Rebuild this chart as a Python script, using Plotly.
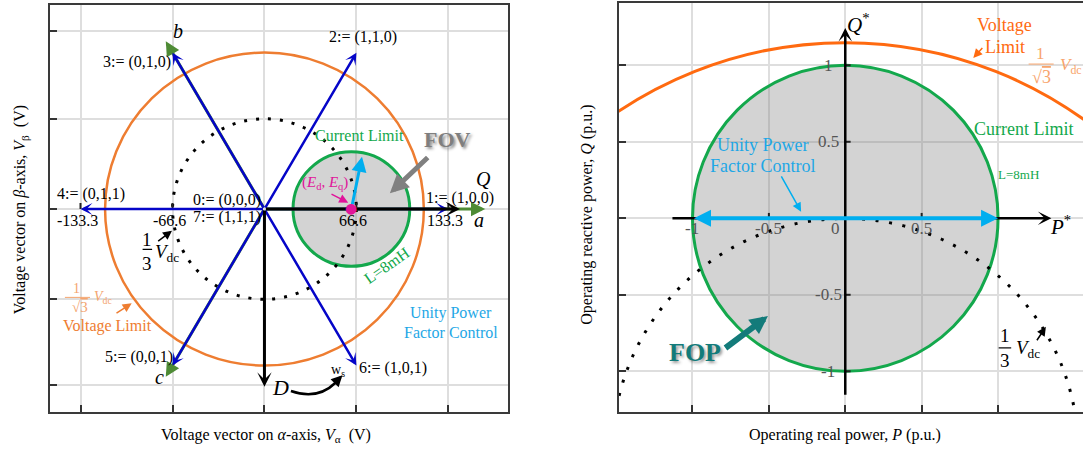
import math
import plotly.graph_objects as go

W, H = 1083, 454
SERIF = "Liberation Serif, Times New Roman, serif"

# ---------------- left panel: voltage space-vector plane (V) ----------------
ALPHA_GRID = [-133.3, -66.6, 0, 66.6, 133.3]
BETA_GRID = [-129.5, -66.6, 0, 66.6, 131.5]
ALPHA_TICK_VALS = [-133.3, -66.6, 66.6, 133.3]
ALPHA_TICK_TEXT = ["-133.3", "-66.6", "66.6", "133.3"]

SV_LABELS = ["1:= (1,0,0)", "2:= (1,1,0)", "3:= (0,1,0)",
             "4:= (0,1,1)", "5:= (0,0,1)", "6:= (1,0,1)"]
SV_ANGLES = [0, 60, 120, 180, 240, 300]
SV_MAGNITUDE = 133.3

PHASE_NAMES = ["a", "b", "c"]
PHASE_ANGLES = [0, 120, 240]
PHASE_LENGTHS = [160, 143, 143]

VOLTAGE_LIMIT_V = 115.5      # Vdc / sqrt(3)
THIRD_VDC_V = 66.6           # Vdc / 3
E_D, E_Q = 63.0, 0.0
CURRENT_LIMIT_V = 42.3
CURRENT_VEC = (7.7, 38.6)    # current vector drawn from (E_d, E_q)
Q_AXIS_LEN = 141.7
D_AXIS_LEN = 131.1

# ---------------- right panel: P-Q operating plane (p.u.) ----------------
P_GRID = [-1, -0.5, 0, 0.5, 1]
Q_GRID = [-1, -0.5, 0, 0.5, 1]
P_TICK_VALS = [-1, -0.5, 0, 0.5]
P_TICK_TEXT = ["-1", "-0.5", "0", "0.5"]
Q_TICK_VALS = [1, 0.5, -0.5, -1]
Q_TICK_TEXT = ["1", "0.5", "-0.5", "-1"]

CURRENT_LIMIT_PU = 1.0
VLIM_CENTER_Q = -1.526
VLIM_RADIUS = 2.674          # 1/sqrt(3) Vdc
THIRD_RADIUS = 1.525         # 1/3 Vdc
P_AXIS_SPAN = (-1.141, 1.349)
Q_AXIS_SPAN = (-1.163, 1.243)

# ---------------- colours ----------------
BLUE = "#0505C8"
PHASE_GREEN = "#4E8B35"
GREEN = "#13A84C"
ORANGE_L = "#EE7D31"
ORANGE_L_LIGHT = "#F4A46E"
ORANGE_R = "#FF6A10"
ORANGE_R_LIGHT = "#F8A46C"
CYAN = "#00AEEF"
CYAN_TXT = "#1EA7E6"
MAGENTA = "#E0149A"
TEAL = "#137B7A"
GRAYFILL = "rgba(128,128,128,0.35)"
GRID = "#DEDEDE"

fig = go.Figure()
# invisible traces so both subplots exist
fig.add_trace(go.Scatter(x=[0], y=[0], mode="markers", marker=dict(opacity=0),
                         xaxis="x", yaxis="y", showlegend=False, hoverinfo="skip"))
fig.add_trace(go.Scatter(x=[0], y=[0], mode="markers", marker=dict(opacity=0),
                         xaxis="x2", yaxis="y2", showlegend=False, hoverinfo="skip"))

shapes = []
ann = []


def refs(panel):
    return ("x", "y") if panel == 1 else ("x2", "y2")


def arrow(x, y, ax, ay, color, width, head=3, size=1.0, panel=1, both=False):
    xr, yr = refs(panel)
    ann.append(dict(x=x, y=y, ax=ax, ay=ay, xref=xr, yref=yr, axref=xr, ayref=yr,
                    text="", showarrow=True, arrowhead=head, arrowsize=size,
                    arrowwidth=width, arrowcolor=color, standoff=0, startstandoff=0,
                    arrowside="end+start" if both else "end",
                    startarrowhead=head, startarrowsize=size))


def label(x, y, text, color="black", size=16, panel=1, **kw):
    xr, yr = refs(panel)
    font = dict(family=SERIF, size=size, color=color)
    font.update(kw.pop("font_extra", {}))
    ann.append(dict(x=x, y=y, xref=xr, yref=yr, text=text, showarrow=False,
                    font=font, xanchor=kw.pop("xanchor", "center"),
                    yanchor=kw.pop("yanchor", "middle"), **kw))


def seg(x0, y0, x1, y1, color="black", width=2, panel=1):
    xr, yr = refs(panel)
    shapes.append(dict(type="line", xref=xr, yref=yr, x0=x0, y0=y0, x1=x1, y1=y1,
                       line=dict(color=color, width=width)))


def circle(cx, cy, r, color, width, panel=1, fill=None, dash="solid"):
    xr, yr = refs(panel)
    shapes.append(dict(type="circle", xref=xr, yref=yr, x0=cx - r, x1=cx + r,
                       y0=cy - r, y1=cy + r, fillcolor=fill or "rgba(0,0,0,0)",
                       line=dict(color=color, width=width, dash=dash)))


def polar(r, deg):
    return r * math.cos(math.radians(deg)), r * math.sin(math.radians(deg))


# ======================= LEFT PANEL =======================
circle(E_D, E_Q, CURRENT_LIMIT_V, GREEN, 3, fill=GRAYFILL)
circle(0, 0, THIRD_VDC_V, "black", 3, dash="3px,9px")
circle(0, 0, VOLTAGE_LIMIT_V, ORANGE_L, 2.5)

# small ticks on the alpha axis
for v in ALPHA_TICK_VALS:
    seg(v, 0, v, 4.5, "#222", 2)

# phase axes a, b, c
for ang, ln in zip(PHASE_ANGLES, PHASE_LENGTHS):
    x, y = polar(ln, ang)
    arrow(x, y, 0, 0, PHASE_GREEN, 3, head=2, size=0.95)

# active voltage vectors
for ang in SV_ANGLES:
    x, y = polar(SV_MAGNITUDE, ang)
    arrow(x, y, 0, 0, BLUE, 2.5, head=3, size=0.8)

# rotating d-q frame
arrow(Q_AXIS_LEN, 0, 0, 0, "black", 3, head=3, size=0.8)
arrow(0, -D_AXIS_LEN, 0, 0, "black", 3, head=3, size=0.8)

# current vector at unity power factor
arrow(E_D + CURRENT_VEC[0], E_Q + CURRENT_VEC[1], E_D, E_Q, CYAN, 3, head=2, size=1.0)

# pointer arrows
arrow(60.7, 4.7, 47.5, 11.6, MAGENTA, 1.5, head=2, size=1.2)
label(E_D, E_Q, "●", color=MAGENTA, size=14,
      font_extra=dict(family="DejaVu Sans"), yshift=1)
arrow(90.9, 11.6, 119.4, 39.1, "#808080", 5, head=2, size=0.75)
arrow(-67.0, -16.0, -78.1, -24.5, "black", 1.5, head=2, size=1.2)
arrow(-96.2, -69.6, -108.3, -77.5, ORANGE_L, 1.5, head=2, size=1.2)

# rotation arrow (w_s)
shapes.append(dict(type="path", xref="x", yref="y",
                   path="M 19.2,-134.3 Q 38.4,-141.2 51.5,-128.2",
                   line=dict(color="black", width=2.5)))
arrow(56.5, -122.6, 50.5, -128.9, "black", 2.5, head=2, size=0.9)

# vector labels
SV_LABEL_XY = [(141.7, 8.4), (71.6, 126.7), (-92.6, 108.3),
               (-125.7, 10.9), (-90.7, -109.0), (93.5, -117.6)]
for (lx, ly), txt in zip(SV_LABEL_XY, SV_LABELS):
    label(lx, ly, txt)
label(-27.5, 6.6, "0:= (0,0,0)")
label(-27.5, -6.1, "7:= (1,1,1)")

PHASE_LABEL_XY = [(155.7, -8.1), (-63.0, 131.7), (-75.7, -124.3)]
for (lx, ly), txt in zip(PHASE_LABEL_XY, PHASE_NAMES):
    label(lx, ly, f"<i>{txt}</i>", size=20)

for v, t in zip(ALPHA_TICK_VALS, ALPHA_TICK_TEXT):
    label(v, -8.7, t, xshift=-3)

label(158.6, 21.9, "<i>Q</i>", size=20)
label(11.7, -131.6, "<i>D</i>", size=22)
label(53.5, -118.9, "w<sub>s</sub>", size=14)

label(69.2, 54.6, "Current Limit", color=GREEN)
label(88.5, -41.3, "L=8mH", color=GREEN, textangle=-35)
label(133.0, 51.4, "<b>FOV</b>", color="#7F7F7F", size=22,
      font_extra=dict(shadow="2px 2px 3px rgba(0,0,0,0.45)"))
label(43.8, 18.9, "(<i>E</i><sub>d</sub>, <i>E</i><sub>q</sub>)", color=MAGENTA, size=15)
label(135.5, -77.0, "Unity Power", color=CYAN_TXT)
label(135.5, -91.0, "Factor Control", color=CYAN_TXT)

# 1/3 Vdc (black)
label(-85.1, -22.4, "1", size=19)
label(-85.1, -40.0, "3", size=19)
seg(-88.3, -29.7, -81.4, -29.7, "black", 1.2)
label(-70.7, -32.5, "<i>V</i><sub>dc</sub>", size=19)

# 1/sqrt(3) Vdc and Voltage Limit (orange)
label(-136.1, -58.6, "1", color=ORANGE_L_LIGHT, size=14)
label(-133.7, -72.5, "√<span style='text-decoration:overline'>3</span>",
      color=ORANGE_L_LIGHT, size=15)
seg(-144.6, -65.2, -126.4, -65.2, ORANGE_L_LIGHT, 1)
label(-117.0, -65.0, "<i>V</i><sub>dc</sub>", color=ORANGE_L_LIGHT, size=14)
label(-113.9, -86.4, "Voltage Limit", color=ORANGE_L)

# ======================= RIGHT PANEL =======================
circle(0, 0, CURRENT_LIMIT_PU, GREEN, 3, panel=2, fill=GRAYFILL)
circle(0, VLIM_CENTER_Q, THIRD_RADIUS, "black", 3, panel=2, dash="3px,10.6px")
circle(0, VLIM_CENTER_Q, VLIM_RADIUS, ORANGE_R, 3, panel=2)

for v in (-0.5, 0.5):
    seg(v, 0, v, 0.035, "#222", 2, panel=2)
for v in (1, 0.5, -0.5, -1):
    seg(0, v, 0.035, v, "#222", 2, panel=2)

# P*, Q* axes
arrow(P_AXIS_SPAN[1], 0, P_AXIS_SPAN[0], 0, "black", 2.5, head=3, size=0.9, panel=2)
arrow(0, Q_AXIS_SPAN[1], 0, Q_AXIS_SPAN[0], "black", 2.5, head=3, size=0.9, panel=2)
# unity power factor range
arrow(CURRENT_LIMIT_PU, 0, -CURRENT_LIMIT_PU, 0, CYAN, 4, head=2, size=0.85,
      panel=2, both=True)

arrow(-0.289, 0.043, -0.424, 0.283, CYAN, 1.5, head=2, size=1.2, panel=2)
arrow(-0.506, -0.639, -0.794, -0.855, TEAL, 6, head=2, size=0.6, panel=2)
arrow(1.313, -0.709, 1.248, -0.807, "black", 1.5, head=2, size=1.2, panel=2)
arrow(0.838, 1.047, 0.906, 1.123, ORANGE_R, 1.5, head=2, size=1.2, panel=2)

for v, t in zip(P_TICK_VALS, P_TICK_TEXT):
    label(v if v != 0 else -0.067, -0.067, t, color="#555555", size=17, panel=2)
for v, t in zip(Q_TICK_VALS, Q_TICK_TEXT):
    label(-0.11, v, t, color="#555555", size=17, panel=2)

label(0.085, 1.276, "<i>Q</i><sup>*</sup>", size=21, panel=2)
label(1.41, -0.044, "<i>P</i><sup>*</sup>", size=21, panel=2)

label(1.045, 1.261, "Voltage", color=ORANGE_R, size=18, panel=2)
label(1.045, 1.119, "Limit", color=ORANGE_R, size=18, panel=2)
label(1.281, 1.075, "1", color=ORANGE_R_LIGHT, size=17, panel=2)
label(1.285, 0.923, "√<span style='text-decoration:overline'>3</span>",
      color=ORANGE_R_LIGHT, size=18, panel=2)
seg(1.20, 1.008, 1.364, 1.008, ORANGE_R_LIGHT, 1, panel=2)
label(1.48, 0.997, "<i>V</i><sub>dc</sub>", color=ORANGE_R_LIGHT, size=17, panel=2)

label(1.168, 0.582, "Current Limit", color=GREEN, size=18, panel=2)
label(1.137, 0.283, "L=8mH", color=GREEN, size=13, panel=2)
label(-0.537, 0.48, "Unity Power", color=CYAN_TXT, size=18, panel=2)
label(-0.537, 0.342, "Factor Control", color=CYAN_TXT, size=18, panel=2)
label(-0.984, -0.88, "<b>FOP</b>", color=TEAL, size=26, panel=2,
      font_extra=dict(shadow="2px 2px 3px rgba(0,0,0,0.4)"))

label(1.045, -0.764, "1", size=19, panel=2)
label(1.045, -0.927, "3", size=19, panel=2)
seg(1.004, -0.847, 1.086, -0.847, "black", 1.2, panel=2)
label(1.198, -0.851, "<i>V</i><sub>dc</sub>", size=19, panel=2)

# ---------------- axis titles ----------------
def title(px, py, text, angle=0):
    ann.append(dict(x=px / W, y=1 - py / H, xref="paper", yref="paper", text=text,
                    showarrow=False, textangle=angle, xanchor="center", yanchor="middle",
                    font=dict(family=SERIF, size=16, color="black")))


title(20.8, 209.5, "Voltage vector on <i>β</i>-axis, <i>V</i><sub>β</sub>  (V)", -90)
title(265.6, 435, "Voltage vector on <i>α</i>-axis, <i>V</i><sub>α</sub>  (V)")
title(586.7, 215, "Operating reactive power, <i>Q</i> (p.u.)", -90)
title(845.0, 435, "Operating real power, <i>P</i> (p.u.)")

axis_common = dict(showgrid=True, gridcolor=GRID, gridwidth=1.5, zeroline=False,
                   showline=True, linecolor="#3A3A3A", linewidth=2,
                   ticks="inside", ticklen=7, tickwidth=2, tickcolor="#333333",
                   showticklabels=False, fixedrange=True)

fig.update_layout(
    width=W, height=H, margin=dict(l=0, r=0, t=0, b=0),
    paper_bgcolor="white", plot_bgcolor="white", showlegend=False,
    font=dict(family=SERIF),
    xaxis=dict(domain=[50 / W, 507.6 / W], range=[-155.4, 176.2],
               tickvals=ALPHA_GRID, mirror=True, anchor="y", **axis_common),
    yaxis=dict(domain=[42 / H, 449 / H], range=[-149.8, 150.6],
               tickvals=BETA_GRID, mirror=True, anchor="x", **axis_common),
    xaxis2=dict(domain=[619 / W, 1.0], range=[-1.481, 1.556],
                tickvals=P_GRID, mirror=True, anchor="y2", **axis_common),
    yaxis2=dict(domain=[42 / H, 451 / H], range=[-1.266, 1.407],
                tickvals=Q_GRID, mirror=False, anchor="x2", **axis_common),
    shapes=shapes, annotations=ann,
)

fig.write_html("out.html")
